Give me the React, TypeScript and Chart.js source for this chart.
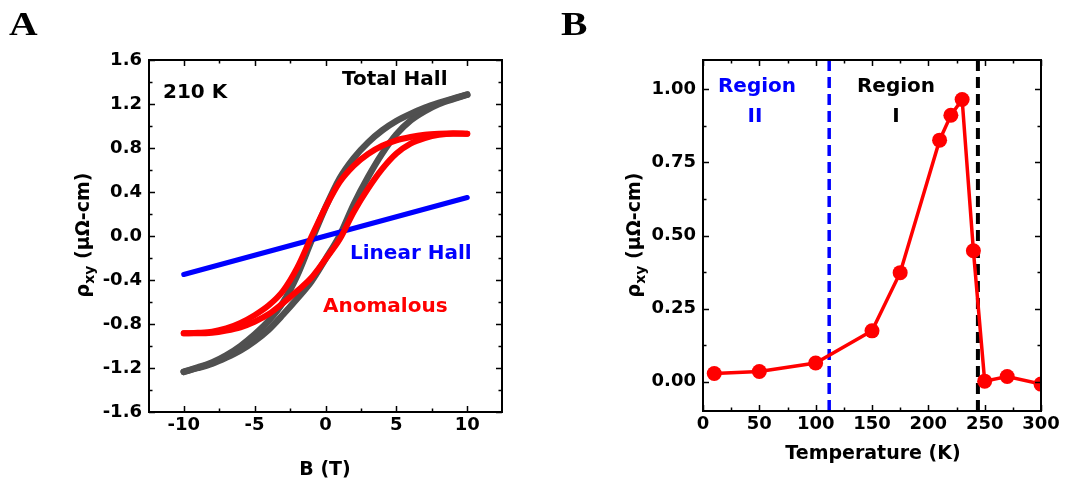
import { useEffect, useRef } from 'react';
import { Chart, registerables } from 'chart.js';
Chart.register(...registerables);

// ---------- Panel A data ----------
const B_FIELD = [-10, -9, -8, -7, -6, -5, -4, -3, -2, -1, 0, 1, 2, 3, 4, 5, 6, 7, 8, 9, 10];
const ANOM_DOWN = [-0.885, -0.88, -0.87, -0.84, -0.79, -0.72, -0.63, -0.5, -0.29, -0.01, 0.26, 0.49, 0.64, 0.745, 0.82, 0.87, 0.9, 0.92, 0.93, 0.935, 0.93];
const ANOM_UP = [-0.885, -0.885, -0.88, -0.86, -0.83, -0.78, -0.71, -0.61, -0.5, -0.38, -0.21, -0.03, 0.22, 0.43, 0.61, 0.75, 0.84, 0.89, 0.92, 0.93, 0.93];
const TOTAL_DOWN = [-1.235, -1.195, -1.15, -1.085, -1.0, -0.895, -0.77, -0.605, -0.36, -0.045, 0.26, 0.525, 0.71, 0.85, 0.96, 1.045, 1.11, 1.165, 1.21, 1.25, 1.285];
const TOTAL_UP = [-1.235, -1.2, -1.16, -1.105, -1.04, -0.955, -0.85, -0.715, -0.57, -0.415, -0.21, 0.005, 0.29, 0.535, 0.75, 0.925, 1.05, 1.135, 1.2, 1.245, 1.285];
const LINEAR_B = [-10, -5, 0, 5, 10];
const LINEAR_RHO = [-0.35, -0.175, 0, 0.175, 0.35];
const A_X_TICKS = [-10, -5, 0, 5, 10];
const A_X_MINOR = [-7.5, -2.5, 2.5, 7.5];
const A_Y_TICKS = [-1.6, -1.2, -0.8, -0.4, 0, 0.4, 0.8, 1.2, 1.6];
const A_Y_MINOR = [-1.4, -1.0, -0.6, -0.2, 0.2, 0.6, 1.0, 1.4];

// ---------- Panel B data ----------
const TEMPS = [10, 50, 100, 150, 175, 210, 220, 230, 240, 250, 270, 300];
const RHO_T = [0.028, 0.035, 0.064, 0.174, 0.373, 0.826, 0.911, 0.965, 0.448, 0.002, 0.018, -0.008];
const REGION_BOUNDS = [112, 244];
const B_X_TICKS = [0, 50, 100, 150, 200, 250, 300];
const B_X_MINOR = [25, 75, 125, 175, 225, 275];
const B_Y_TICKS = [0, 0.25, 0.5, 0.75, 1.0];
const B_Y_MINOR = [0.125, 0.375, 0.625, 0.875];

const SANS = "'DejaVu Sans', sans-serif";
const TICK_FONT = { family: SANS, size: 18, weight: 'bold' as const };

const framePlugin = {
  id: 'frameTicks',
  afterDatasetsDraw(chart: any, _args: any, opts: any) {
    const { ctx, chartArea: a, scales } = chart;
    const xs = scales.x, ys = scales.y;
    ctx.save();
    ctx.strokeStyle = '#000';
    ctx.lineWidth = 1.5;
    const vt = (vals: number[], len: number) => {
      vals.forEach((v) => {
        const p = Math.round(xs.getPixelForValue(v)) + 0.5;
        ctx.beginPath();
        ctx.moveTo(p, a.bottom); ctx.lineTo(p, a.bottom - len);
        ctx.moveTo(p, a.top); ctx.lineTo(p, a.top + len);
        ctx.stroke();
      });
    };
    const ht = (vals: number[], len: number) => {
      vals.forEach((v) => {
        const p = Math.round(ys.getPixelForValue(v)) + 0.5;
        ctx.beginPath();
        ctx.moveTo(a.left, p); ctx.lineTo(a.left + len, p);
        ctx.moveTo(a.right, p); ctx.lineTo(a.right - len, p);
        ctx.stroke();
      });
    };
    vt(opts.xMajor, 6); vt(opts.xMinor, 3.5);
    ht(opts.yMajor, 6); ht(opts.yMinor, 3.5);
    ctx.lineWidth = 2;
    ctx.strokeRect(a.left, a.top, a.right - a.left, a.bottom - a.top);
    ctx.restore();
  },
};

const textPlugin = {
  id: 'texts',
  afterDraw(chart: any, _args: any, opts: any) {
    const { ctx } = chart;
    ctx.save();
    (opts.items || []).forEach((it: any) => {
      ctx.font = it.font;
      ctx.fillStyle = it.color || '#000';
      ctx.textAlign = it.align || 'left';
      ctx.textBaseline = 'alphabetic';
      if (it.sx) {
        ctx.save();
        ctx.translate(it.x, it.y);
        ctx.scale(it.sx, 1);
        ctx.fillText(it.text, 0, 0);
        ctx.restore();
      } else {
        ctx.fillText(it.text, it.x, it.y);
      }
    });
    const yt = opts.yTitle;
    if (yt) {
      ctx.translate(yt.cx, yt.cy);
      ctx.rotate(-Math.PI / 2);
      ctx.fillStyle = '#000';
      ctx.textAlign = 'left';
      const big = `bold 19px ${SANS}`;
      const small = `bold 14px ${SANS}`;
      ctx.font = big;
      const w1 = ctx.measureText('ρ').width;
      const w3 = ctx.measureText(' (μΩ-cm)').width;
      ctx.font = small;
      const w2 = ctx.measureText('xy').width;
      let x = -(w1 + w2 + w3) / 2;
      const base = 7;
      ctx.font = big;
      ctx.fillText('ρ', x, base); x += w1;
      ctx.font = small;
      ctx.fillText('xy', x, base + 5); x += w2;
      ctx.font = big;
      ctx.fillText(' (μΩ-cm)', x, base);
    }
    ctx.restore();
  },
};

function fixedSize(w?: number, h?: number) {
  return (s: any) => {
    if (w !== undefined) s.width = w;
    if (h !== undefined) s.height = h;
  };
}

function xy(xs: number[], ys: number[]) {
  return xs.map((x, i) => ({ x, y: ys[i] }));
}

function PanelA() {
  const ref = useRef<HTMLCanvasElement>(null);
  useEffect(() => {
    const chart = new Chart(ref.current!, {
      type: 'line',
      data: {
        datasets: [
          { data: xy(B_FIELD, ANOM_DOWN), borderColor: '#ff0000', borderWidth: 6 },
          { data: xy(B_FIELD, ANOM_UP), borderColor: '#ff0000', borderWidth: 6 },
          { data: xy(LINEAR_B, LINEAR_RHO), borderColor: '#0000ff', borderWidth: 5, cubicInterpolationMode: 'default', tension: 0 },
          { data: xy(B_FIELD, TOTAL_DOWN), borderColor: '#505050', borderWidth: 6.5 },
          { data: xy(B_FIELD, TOTAL_UP), borderColor: '#505050', borderWidth: 6.5 },
        ] as any,
      },
      options: {
        animation: false,
        responsive: false,
        devicePixelRatio: 1,
        layout: { padding: { left: 0, top: 60, right: 38, bottom: 0 } },
        elements: {
          point: { radius: 0 },
          line: { cubicInterpolationMode: 'monotone', borderCapStyle: 'round', borderJoinStyle: 'round' },
        },
        plugins: {
          legend: { display: false },
          tooltip: { enabled: false },
          frameTicks: { xMajor: A_X_TICKS, xMinor: A_X_MINOR, yMajor: A_Y_TICKS, yMinor: A_Y_MINOR },
          texts: {
            items: [
              { text: 'A', x: 9, y: 35, font: "bold 33px 'Liberation Serif', serif", sx: 1.2 },
              { text: '210 K', x: 163, y: 98, font: `bold 20px ${SANS}` },
              { text: 'Total Hall', x: 342, y: 85, font: `bold 20px ${SANS}` },
              { text: 'Linear Hall', x: 350, y: 259, font: `bold 20px ${SANS}`, color: '#0000ff' },
              { text: 'Anomalous', x: 323, y: 312, font: `bold 20px ${SANS}`, color: '#ff0000' },
              { text: 'B (T)', x: 325, y: 475, font: `bold 19px ${SANS}`, align: 'center' },
            ],
            yTitle: { cx: 82, cy: 235 },
          },
        } as any,
        scales: {
          x: {
            type: 'linear', min: -12.45, max: 12.45,
            grid: { display: false, drawTicks: false }, border: { display: false },
            afterBuildTicks: (s: any) => { s.ticks = A_X_TICKS.map((v) => ({ value: v })); },
            afterFit: fixedSize(undefined, 73),
            ticks: { font: TICK_FONT, color: '#000', padding: 3, maxRotation: 0, autoSkip: false, callback: (v: any) => String(v) },
          },
          y: {
            type: 'linear', min: -1.6, max: 1.6,
            grid: { display: false, drawTicks: false }, border: { display: false },
            afterBuildTicks: (s: any) => { s.ticks = A_Y_TICKS.map((v) => ({ value: v })); },
            afterFit: fixedSize(149, undefined),
            ticks: { font: TICK_FONT, color: '#000', padding: 7, autoSkip: false, callback: (v: any) => Number(v).toFixed(1) },
          },
        },
      },
      plugins: [framePlugin, textPlugin],
    });
    return () => chart.destroy();
  }, []);
  return <canvas ref={ref} width={540} height={485} style={{ position: 'absolute', left: 0, top: 0 }} />;
}

function PanelB() {
  const ref = useRef<HTMLCanvasElement>(null);
  useEffect(() => {
    const vline = (x: number) => [{ x, y: -0.1 }, { x, y: 1.1 }];
    const chart = new Chart(ref.current!, {
      type: 'line',
      data: {
        datasets: [
          {
            data: xy(TEMPS, RHO_T), borderColor: '#ff0000', backgroundColor: '#ff0000', borderWidth: 3.5,
            pointRadius: 7.5, pointBorderWidth: 0, pointBackgroundColor: '#ff0000', tension: 0,
          },
          { data: vline(REGION_BOUNDS[0]), borderColor: '#0000ff', borderWidth: 3.5, borderDash: [11, 6], pointRadius: 0 },
          { data: vline(REGION_BOUNDS[1]), borderColor: '#000000', borderWidth: 4, borderDash: [11, 6], pointRadius: 0 },
        ] as any,
      },
      options: {
        animation: false,
        responsive: false,
        devicePixelRatio: 1,
        layout: { padding: { left: 0, top: 60, right: 45, bottom: 0 } },
        plugins: {
          legend: { display: false },
          tooltip: { enabled: false },
          frameTicks: { xMajor: B_X_TICKS, xMinor: B_X_MINOR, yMajor: B_Y_TICKS, yMinor: B_Y_MINOR },
          texts: {
            items: [
              { text: 'B', x: 21, y: 35, font: "bold 33px 'Liberation Serif', serif", sx: 1.2 },
              { text: 'Region', x: 217, y: 92, font: `bold 20px ${SANS}`, color: '#0000ff', align: 'center' },
              { text: 'II', x: 215, y: 122, font: `bold 20px ${SANS}`, color: '#0000ff', align: 'center' },
              { text: 'Region', x: 356, y: 92, font: `bold 20px ${SANS}`, align: 'center' },
              { text: 'I', x: 356, y: 122, font: `bold 20px ${SANS}`, align: 'center' },
              { text: 'Temperature (K)', x: 333, y: 459, font: `bold 19px ${SANS}`, align: 'center' },
            ],
            yTitle: { cx: 93, cy: 235 },
          },
        } as any,
        scales: {
          x: {
            type: 'linear', min: 0, max: 300,
            grid: { display: false, drawTicks: false }, border: { display: false },
            afterBuildTicks: (s: any) => { s.ticks = B_X_TICKS.map((v) => ({ value: v })); },
            afterFit: fixedSize(undefined, 74),
            ticks: { font: TICK_FONT, color: '#000', padding: 3, maxRotation: 0, autoSkip: false, callback: (v: any) => String(v) },
          },
          y: {
            type: 'linear', min: -0.1, max: 1.1,
            grid: { display: false, drawTicks: false }, border: { display: false },
            afterBuildTicks: (s: any) => { s.ticks = B_Y_TICKS.map((v) => ({ value: v })); },
            afterFit: fixedSize(163, undefined),
            ticks: { font: TICK_FONT, color: '#000', padding: 7, autoSkip: false, callback: (v: any) => Number(v).toFixed(2) },
          },
        },
      },
      plugins: [framePlugin, textPlugin],
    });
    return () => chart.destroy();
  }, []);
  return <canvas ref={ref} width={546} height={485} style={{ position: 'absolute', left: 540, top: 0 }} />;
}

export default function App() {
  return (
    <div style={{ position: 'absolute', left: 0, top: 0, width: 1086, height: 485, background: '#fff', overflow: 'hidden' }}>
      <PanelA />
      <PanelB />
    </div>
  );
}
